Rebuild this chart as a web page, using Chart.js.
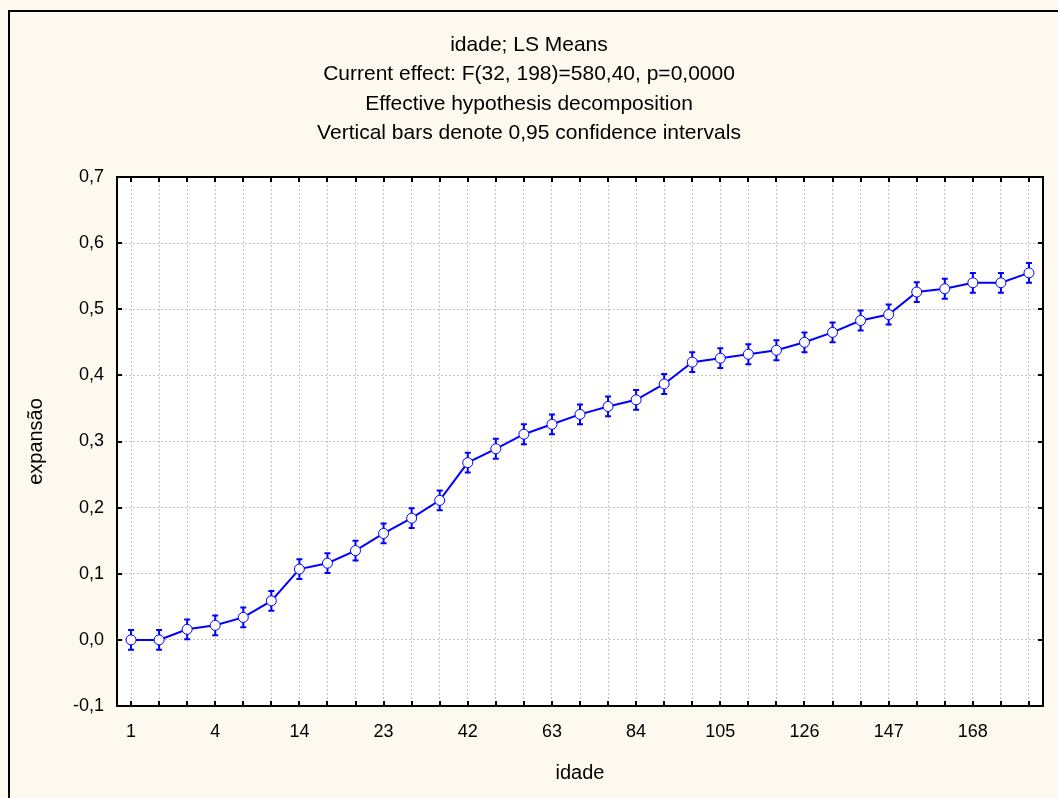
<!DOCTYPE html>
<html>
<head>
<meta charset="utf-8">
<script src="https://cdn.jsdelivr.net/npm/chart.js@4"></script>
<style>
  html, body { margin:0; padding:0; background:#fdf9ef; }
  #wrap { width:1058px; height:798px; }
</style>
</head>
<body>
<div id="wrap"><canvas id="lsChart" width="1058" height="798"></canvas></div>
<script>
// idade (categorias) - so alguns rotulos aparecem no eixo
var idade = ['1','2','3','4','7','10','14','17','20','23','28','35','42','49','56','63','70','77','84','91','98','105','112','119','126','133','140','147','154','161','168','175','182'];
// LS means de expansao
var expansao = [0.000, 0.000, 0.016, 0.022, 0.034, 0.059, 0.107, 0.116, 0.135, 0.161, 0.184, 0.211, 0.268, 0.289, 0.311, 0.326, 0.341, 0.353, 0.363, 0.387, 0.420, 0.426, 0.432, 0.438, 0.450, 0.465, 0.483, 0.492, 0.526, 0.531, 0.540, 0.540, 0.555];
// meia largura do IC 95%
var ic95 = [0.015, 0.015, 0.015, 0.015, 0.015, 0.015, 0.015, 0.015, 0.015, 0.015, 0.015, 0.015, 0.015, 0.015, 0.015, 0.015, 0.015, 0.015, 0.015, 0.015, 0.015, 0.015, 0.015, 0.015, 0.015, 0.015, 0.015, 0.015, 0.015, 0.015, 0.015, 0.015, 0.015];
var titulo = ['idade; LS Means', 'Current effect: F(32, 198)=580,40, p=0,0000', 'Effective hypothesis decomposition', 'Vertical bars denote 0,95 confidence intervals'];

var azul = '#0000ff';
var fonte = 'Liberation Sans, Arial, sans-serif';

// fundo, moldura e area branca
var fundoPlugin = {
  id: 'fundo',
  beforeDraw: function(chart) {
    var ctx = chart.ctx, a = chart.chartArea;
    ctx.save();
    ctx.fillStyle = '#fdf9ef';
    ctx.fillRect(0, 0, chart.width, chart.height);
    ctx.fillStyle = '#ffffff';
    ctx.fillRect(a.left, a.top, a.right - a.left, a.bottom - a.top);
    ctx.strokeStyle = '#000';
    ctx.lineWidth = 2;
    ctx.strokeRect(9, 11, chart.width + 10, chart.height + 10);
    ctx.restore();
  },
  afterDraw: function(chart) {
    var ctx = chart.ctx, a = chart.chartArea;
    var xs = chart.scales.x, ys = chart.scales.y;
    ctx.save();
    ctx.strokeStyle = '#000';
    ctx.lineWidth = 2;
    ctx.strokeRect(a.left, a.top, a.right - a.left, a.bottom - a.top);
    ctx.beginPath();
    // ticks para dentro
    for (var i = 0; i < idade.length; i++) {
      var px = Math.round(xs.getPixelForValue(i));
      ctx.moveTo(px, a.bottom); ctx.lineTo(px, a.bottom - 5);
      ctx.moveTo(px, a.top); ctx.lineTo(px, a.top + 5);
    }
    ys.ticks.forEach(function(t) {
      var py = Math.round(ys.getPixelForValue(t.value));
      ctx.moveTo(a.left, py); ctx.lineTo(a.left + 5, py);
      ctx.moveTo(a.right, py); ctx.lineTo(a.right - 5, py);
    });
    ctx.stroke();
    ctx.restore();
  }
};

// barras verticais do IC
var barrasPlugin = {
  id: 'barras',
  beforeDatasetsDraw: function(chart) {
    var ctx = chart.ctx;
    var xs = chart.scales.x, ys = chart.scales.y;
    ctx.save();
    ctx.strokeStyle = azul;
    ctx.lineWidth = 2;
    ctx.beginPath();
    for (var i = 0; i < expansao.length; i++) {
      var px = xs.getPixelForValue(i);
      var yTop = ys.getPixelForValue(expansao[i] + ic95[i]);
      var yBot = ys.getPixelForValue(expansao[i] - ic95[i]);
      ctx.moveTo(px, yTop); ctx.lineTo(px, yBot);
      ctx.moveTo(px - 3, yTop); ctx.lineTo(px + 3, yTop);
      ctx.moveTo(px - 3, yBot); ctx.lineTo(px + 3, yBot);
    }
    ctx.stroke();
    ctx.restore();
  }
};

var ctx = document.getElementById('lsChart').getContext('2d');
var lsChart = new Chart(ctx, {
  type: 'line',
  data: {
    labels: idade,
    datasets: [{
      data: expansao,
      borderColor: azul,
      borderWidth: 2,
      tension: 0,
      pointRadius: 5,
      pointBackgroundColor: '#ffffff',
      pointBorderColor: azul,
      pointBorderWidth: 1,
      fill: false
    }]
  },
  plugins: [fundoPlugin, barrasPlugin],
  options: {
    responsive: false,
    animation: false,
    devicePixelRatio: 1,
    layout: { padding: { left: 15, top: 16, right: 15, bottom: 0 } },
    plugins: {
      legend: { display: false },
      tooltip: { enabled: false },
      title: {
        display: true,
        text: titulo,
        color: '#000',
        font: { family: fonte, size: 21, weight: 'normal', lineHeight: 29.5 / 21 },
        padding: { top: 14, bottom: 29 }
      }
    },
    scales: {
      x: {
        offset: true,
        afterFit: function(s) { s.height = 798 - 706; },
        grid: { color: '#c4c4c4', drawTicks: false },
        border: { display: false, dash: [2, 2] },
        ticks: {
          autoSkip: false,
          maxRotation: 0,
          padding: 15,
          color: '#000',
          font: { family: fonte, size: 18 },
          callback: function(v, i) { return i % 3 === 0 ? idade[i] : ''; }
        },
        title: {
          display: true,
          text: 'idade',
          color: '#000',
          font: { family: fonte, size: 20 },
          padding: { top: 0, bottom: 13 }
        }
      },
      y: {
        min: -0.1,
        max: 0.7,
        afterFit: function(s) { s.width = 117 - 15; },
        grid: { color: '#c4c4c4', drawTicks: false },
        border: { display: false, dash: [2, 2] },
        ticks: {
          stepSize: 0.1,
          padding: 13,
          color: '#000',
          font: { family: fonte, size: 18 },
          callback: function(v) {
            var r = Math.round(v * 10) / 10;
            return r.toFixed(1).replace('.', ',');
          }
        },
        title: {
          display: true,
          text: 'expansão',
          color: '#000',
          font: { family: fonte, size: 20 },
          padding: { top: 9, bottom: 0 }
        }
      }
    }
  }
});
</script>
</body>
</html>
